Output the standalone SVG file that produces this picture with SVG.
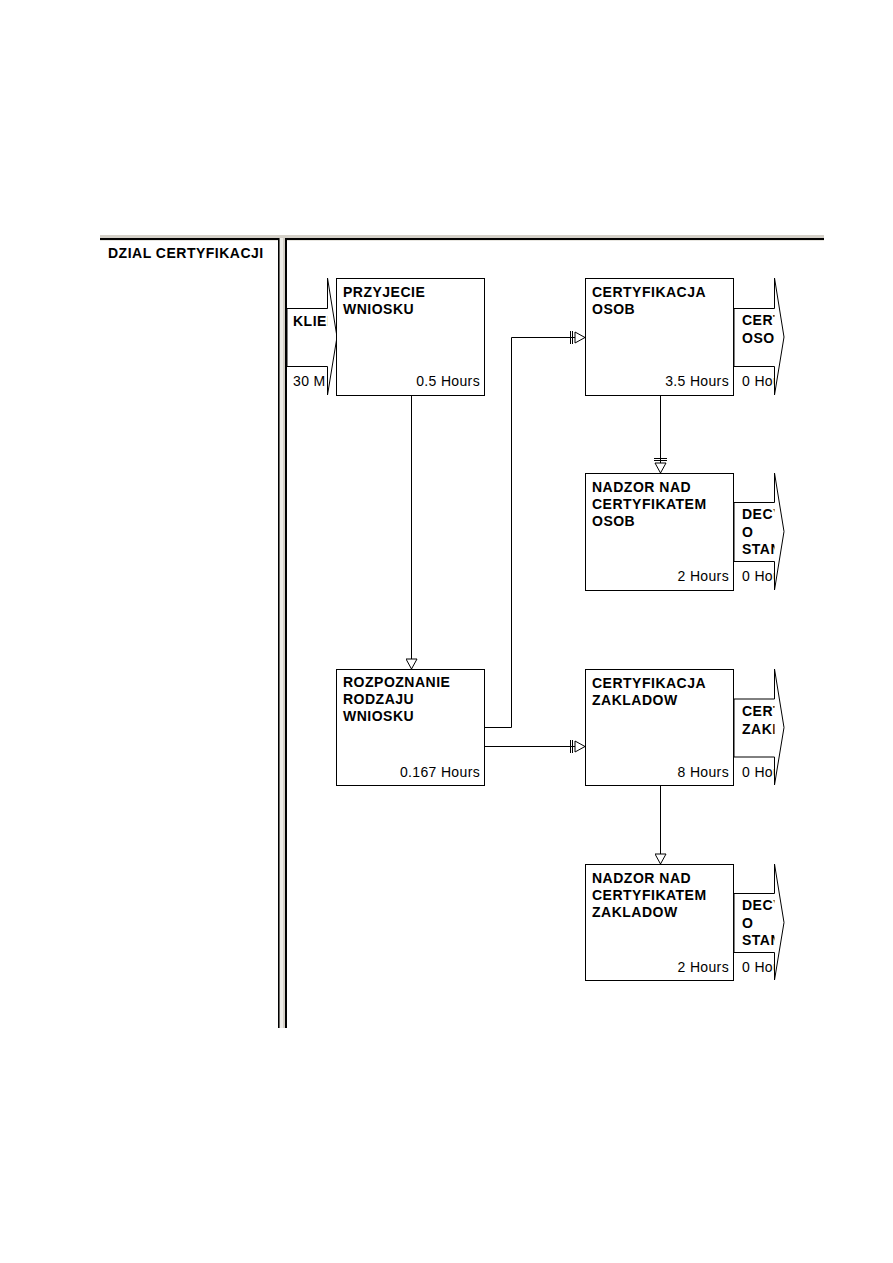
<svg xmlns="http://www.w3.org/2000/svg" width="893" height="1263" viewBox="0 0 893 1263">
<style>
.b{font-family:"Liberation Sans",Arial,sans-serif;font-size:14px;font-weight:bold;letter-spacing:0.5px;fill:#000}
.r{font-family:"Liberation Sans",Arial,sans-serif;font-size:14px;letter-spacing:0.35px;fill:#000}
.box{fill:#fff;stroke:#000;stroke-width:1}
.arw{fill:#fff;stroke:#000;stroke-width:1}
.con{fill:none;stroke:#000;stroke-width:1}
</style>
<defs>
<marker id="tri" viewBox="0 0 12 12" refX="11" refY="6" markerWidth="12" markerHeight="12" orient="auto" markerUnits="userSpaceOnUse">
<path d="M1,0.5 L11,6 L1,11.5 Z" fill="#fff" stroke="#000" stroke-width="1"/>
</marker>
<marker id="bartri" viewBox="0 0 18 14" refX="17" refY="7" markerWidth="18" markerHeight="14" orient="auto" markerUnits="userSpaceOnUse">
<path d="M2.5,0.5 V13.5 M4.5,0.5 V13.5" fill="none" stroke="#000" stroke-width="1"/>
<path d="M7,1.5 L17,7 L7,12.5 Z" fill="#fff" stroke="#000" stroke-width="1"/>
</marker>
<clipPath id="clipL" clipPathUnits="userSpaceOnUse"><rect x="287" y="0" width="40.5" height="1263"/></clipPath>
<clipPath id="clipR" clipPathUnits="userSpaceOnUse"><rect x="735" y="0" width="39.5" height="1263"/></clipPath>
</defs>
<rect width="893" height="1263" fill="#fff"/>

<g id="lane">
<rect x="100" y="235" width="724" height="3" fill="#d4d0c8"/>
<rect x="100" y="238" width="724" height="2" fill="#000"/>
<rect x="100" y="240" width="724" height="1" fill="#e8e6e0"/>
<rect x="278" y="235" width="9" height="793" fill="#d4d0c8"/>
<rect x="280" y="238" width="3" height="790" fill="#ecebe6"/>
<rect x="278" y="238" width="1.5" height="790" fill="#000"/>
<rect x="285" y="238" width="2" height="790" fill="#000"/>
<text class="b" x="108" y="258">DZIAL CERTYFIKACJI</text>
</g>

<g id="connectors">
<path class="con" d="M411.5,395 V669" marker-end="url(#tri)"/>
<path class="con" d="M485,727.5 H511.5 V337.5 H585" marker-end="url(#bartri)"/>
<path class="con" d="M485,746.5 H585" marker-end="url(#bartri)"/>
<path class="con" d="M660.5,395 V473" marker-end="url(#bartri)"/>
<path class="con" d="M660.5,785 V864" marker-end="url(#tri)"/>
</g>

<g id="in-klient">
<polygon class="arw" points="287,308.5 327.5,308.5 327.5,278 337,337 327.5,395 327.5,366.5 287,366.5"/>
<g clip-path="url(#clipL)">
<text class="b" x="293" y="326">KLIEN</text>
<text class="r" x="293" y="386">30 M</text>
</g>
</g>

<g id="n-przyjecie">
<rect class="box" x="336.5" y="278.5" width="148" height="117"/>
<text class="b" x="343" y="297">PRZYJECIE</text>
<text class="b" x="343" y="314">WNIOSKU</text>
<text class="r" x="480" y="386" text-anchor="end">0.5 Hours</text>
</g>

<g id="n-cert-osob">
<rect class="box" x="585.5" y="278.5" width="148" height="117"/>
<text class="b" x="592" y="297">CERTYFIKACJA</text>
<text class="b" x="592" y="314">OSOB</text>
<text class="r" x="729" y="386" text-anchor="end">3.5 Hours</text>
</g>
<g id="out-cert-osob">
<polygon class="arw" points="734,308.5 774.5,308.5 774.5,278 784,337 774.5,395 774.5,366.5 734,366.5"/>
<g clip-path="url(#clipR)">
<text class="b" x="742" y="325">CERT</text>
<text class="b" x="742" y="343">OSOB</text>
<text class="r" x="742" y="386">0 Hou</text>
</g>
</g>

<g id="n-nadzor-osob">
<rect class="box" x="585.5" y="473.5" width="148" height="117"/>
<text class="b" x="592" y="492">NADZOR NAD</text>
<text class="b" x="592" y="509">CERTYFIKATEM</text>
<text class="b" x="592" y="526">OSOB</text>
<text class="r" x="729" y="581" text-anchor="end">2 Hours</text>
</g>
<g id="out-nadzor-osob">
<polygon class="arw" points="734,502.5 774.5,502.5 774.5,473 784,531.5 774.5,590 774.5,561.5 734,561.5"/>
<g clip-path="url(#clipR)">
<text class="b" x="742" y="519">DECY</text>
<text class="b" x="742" y="537">O</text>
<text class="b" x="742" y="554">STAN</text>
<text class="r" x="742" y="581">0 Hou</text>
</g>
</g>

<g id="n-rozpoznanie">
<rect class="box" x="336.5" y="669.5" width="148" height="116"/>
<text class="b" x="343" y="687">ROZPOZNANIE</text>
<text class="b" x="343" y="704">RODZAJU</text>
<text class="b" x="343" y="721">WNIOSKU</text>
<text class="r" x="480" y="777" text-anchor="end">0.167 Hours</text>
</g>

<g id="n-cert-zakladow">
<rect class="box" x="585.5" y="669.5" width="148" height="116"/>
<text class="b" x="592" y="688">CERTYFIKACJA</text>
<text class="b" x="592" y="705">ZAKLADOW</text>
<text class="r" x="729" y="777" text-anchor="end">8 Hours</text>
</g>
<g id="out-cert-zakladow">
<polygon class="arw" points="734,699 774.5,699 774.5,669 784,727.5 774.5,785 774.5,757 734,757"/>
<g clip-path="url(#clipR)">
<text class="b" x="742" y="716">CERT</text>
<text class="b" x="742" y="734">ZAKL</text>
<text class="r" x="742" y="777">0 Hou</text>
</g>
</g>

<g id="n-nadzor-zakladow">
<rect class="box" x="585.5" y="864.5" width="148" height="116"/>
<text class="b" x="592" y="883">NADZOR NAD</text>
<text class="b" x="592" y="900">CERTYFIKATEM</text>
<text class="b" x="592" y="917">ZAKLADOW</text>
<text class="r" x="729" y="972" text-anchor="end">2 Hours</text>
</g>
<g id="out-nadzor-zakladow">
<polygon class="arw" points="734,893.5 774.5,893.5 774.5,864 784,922.5 774.5,980 774.5,952.5 734,952.5"/>
<g clip-path="url(#clipR)">
<text class="b" x="742" y="910">DECY</text>
<text class="b" x="742" y="928">O</text>
<text class="b" x="742" y="945">STAN</text>
<text class="r" x="742" y="972">0 Hou</text>
</g>
</g>
</svg>
